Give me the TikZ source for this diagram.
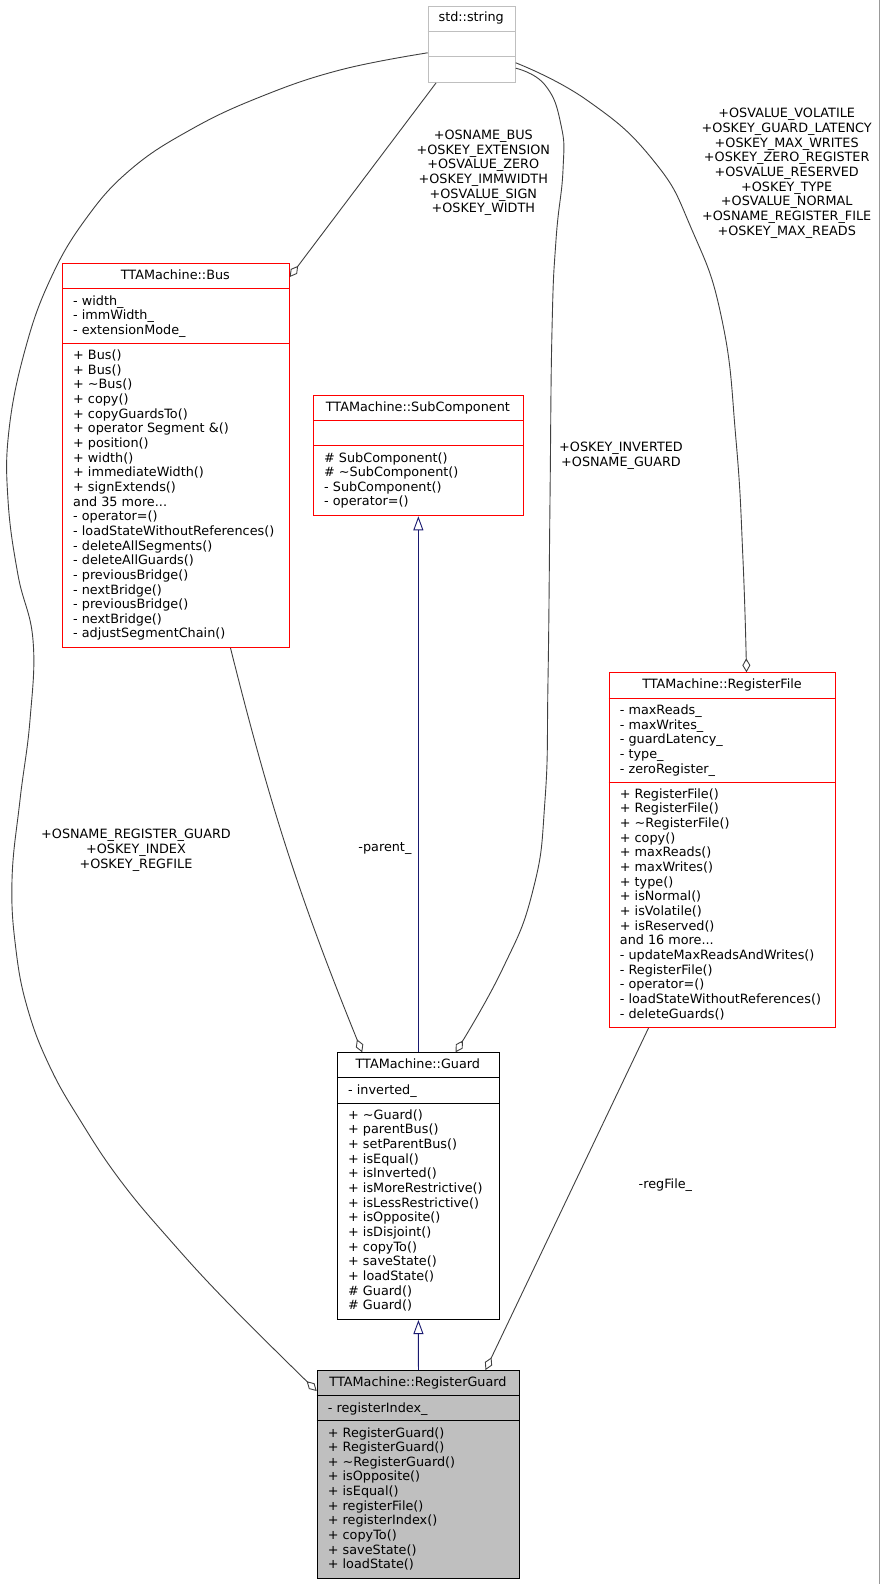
\documentclass[tikz,border=0pt]{standalone}
\usepackage{fontspec}
\setmainfont{DejaVu Sans}
\usetikzlibrary{arrows.meta}

\definecolor{kante}{HTML}{404040}
\definecolor{erbe}{HTML}{191970}
\definecolor{hellgrau}{HTML}{BFBFBF}

\newcommand{\umlfont}{\fontsize{12.8}{14.65}\selectfont}

\begin{document}
\begin{tikzpicture}[x=1pt,y=-1pt,
  every node/.style={font=\umlfont,inner sep=0pt},
  klasse/.style={draw,line width=1pt,anchor=north west},
  titel/.style={anchor=base},
  liste/.style={anchor=base west,align=left},
  rolle/.style={align=center},
  aggr/.style={draw=kante,line width=0.9pt,-{Diamond[open,length=14pt,width=8pt]}},
  erbt/.style={draw=erbe,line width=0.9pt,-{Triangle[open,length=14pt,width=10pt]}}]

\path[use as bounding box,fill=white] (0,0) rectangle (881,1584);

% Rand
\draw[black!40,line width=1pt] (879.5,0)--(879.5,1584);

% std::string
\node[klasse,draw=hellgrau,minimum width=87,minimum height=76.3] (str) at (427.7,5.7) {};
\draw[hellgrau,line width=1pt] (427.7,31.7)--(514.7,31.7);
\draw[hellgrau,line width=1pt] (427.7,56.7)--(514.7,56.7);
\node[titel] (strt) at (471.2,22) {std::string};

% TTAMachine::Bus (Listen an der letzten Grundlinie)
\node[klasse,draw=red,minimum width=226.7,minimum height=383.7] (bus) at (62,263.3) {};
\draw[red,line width=1pt] (62,288.7)--(288.7,288.7);
\draw[red,line width=1pt] (62,343.3)--(288.7,343.3);
\node[titel] (bust) at (175.35,279.6) {TTAMachine::Bus};
\node[liste] (busa) at (73,334.3) {- width\_\\- immWidth\_\\- extensionMode\_};
\node[liste] (busm) at (73,637.95) {+ Bus()\\+ Bus()\\+ \textasciitilde Bus()\\+ copy()\\+ copyGuardsTo()\\+ operator Segment \&()\\+ position()\\+ width()\\+ immediateWidth()\\+ signExtends()\\and 35 more...\\- operator=()\\- loadStateWithoutReferences()\\- deleteAllSegments()\\- deleteAllGuards()\\- previousBridge()\\- nextBridge()\\- previousBridge()\\- nextBridge()\\- adjustSegmentChain()};

% TTAMachine::SubComponent
\node[klasse,draw=red,minimum width=209.7,minimum height=120] (subc) at (313,395.3) {};
\draw[red,line width=1pt] (313,420.7)--(522.7,420.7);
\draw[red,line width=1pt] (313,445.7)--(522.7,445.7);
\node[titel] (subct) at (417.85,411.6) {TTAMachine::SubComponent};
\node[liste] (subcm) at (324,505.95) {\# SubComponent()\\\# \textasciitilde SubComponent()\\- SubComponent()\\- operator=()};

% TTAMachine::RegisterFile
\node[klasse,draw=red,minimum width=226.6,minimum height=354.7] (regfile) at (608.7,672.3) {};
\draw[red,line width=1pt] (608.7,698.3)--(835.3,698.3);
\draw[red,line width=1pt] (608.7,782)--(835.3,782);
\node[titel] (regfilet) at (722,688.6) {TTAMachine::RegisterFile};
\node[liste] (regfilea) at (619.7,773.2) {- maxReads\_\\- maxWrites\_\\- guardLatency\_\\- type\_\\- zeroRegister\_};
\node[liste] (regfilem) at (619.7,1018.05) {+ RegisterFile()\\+ RegisterFile()\\+ \textasciitilde RegisterFile()\\+ copy()\\+ maxReads()\\+ maxWrites()\\+ type()\\+ isNormal()\\+ isVolatile()\\+ isReserved()\\and 16 more...\\- updateMaxReadsAndWrites()\\- RegisterFile()\\- operator=()\\- loadStateWithoutReferences()\\- deleteGuards()};

% TTAMachine::Guard
\node[klasse,minimum width=161.7,minimum height=266.7] (guard) at (337,1052.3) {};
\draw[line width=1pt] (337,1077.7)--(498.7,1077.7);
\draw[line width=1pt] (337,1103)--(498.7,1103);
\node[titel] (guardt) at (417.85,1068.6) {TTAMachine::Guard};
\node[liste] (guarda) at (348,1094) {- inverted\_};
\node[liste] (guardm) at (348,1309.75) {+ \textasciitilde Guard()\\+ parentBus()\\+ setParentBus()\\+ isEqual()\\+ isInverted()\\+ isMoreRestrictive()\\+ isLessRestrictive()\\+ isOpposite()\\+ isDisjoint()\\+ copyTo()\\+ saveState()\\+ loadState()\\\# Guard()\\\# Guard()};

% TTAMachine::RegisterGuard
\node[klasse,fill=hellgrau,minimum width=202.6,minimum height=207.7] (regguard) at (316.7,1370) {};
\draw[line width=1pt] (316.7,1395.7)--(519.3,1395.7);
\draw[line width=1pt] (316.7,1420.7)--(519.3,1420.7);
\node[titel] (regguardt) at (418,1386.3) {TTAMachine::RegisterGuard};
\node[liste] (regguarda) at (327.7,1412) {- registerIndex\_};
\node[liste] (regguardm) at (327.7,1568.85) {+ RegisterGuard()\\+ RegisterGuard()\\+ \textasciitilde RegisterGuard()\\+ isOpposite()\\+ isEqual()\\+ registerFile()\\+ registerIndex()\\+ copyTo()\\+ saveState()\\+ loadState()};

% Vererbung
\draw[erbt] (guard)--(subc);
\draw[erbt] (regguard)--(guard);

% Aggregation Bus
\draw[aggr] ([xshift=8.3pt]str.south west)--([yshift=-13.7pt]bus.north east);
\node[rolle] (lblbus) at (483.3,172.8) {+OSNAME\_BUS\\+OSKEY\_EXTENSION\\+OSVALUE\_ZERO\\+OSKEY\_IMMWIDTH\\+OSVALUE\_SIGN\\+OSKEY\_WIDTH};

% Aggregation RegisterFile
\draw[aggr] plot[smooth,tension=0.8] coordinates {([yshift=-18.45pt]str.east) (586.7,100) (653,160) (692,230) (722,320) (736,440) (743,560) ([xshift=24pt]regfile.north)};
\node[rolle] (lblregfile) at (786.7,173.2) {+OSVALUE\_VOLATILE\\+OSKEY\_GUARD\_LATENCY\\+OSKEY\_MAX\_WRITES\\+OSKEY\_ZERO\_REGISTER\\+OSVALUE\_RESERVED\\+OSKEY\_TYPE\\+OSVALUE\_NORMAL\\+OSNAME\_REGISTER\_FILE\\+OSKEY\_MAX\_READS};

% Aggregation Guard
\draw[aggr] plot[smooth,tension=0.8] coordinates {([yshift=-23.85pt]str.east) (545,85) (561,125) (563,170) (556,240) (552,330) (550,500) (548,680) (545,800) (533,890) (502,970) ([xshift=37.15pt]guard.north)};
\node[rolle] (lblguard) at (621,455.7) {+OSKEY\_INVERTED\\+OSNAME\_GUARD};

% Aggregation RegisterGuard
\draw[aggr] plot[smooth,tension=0.7] coordinates {([yshift=-8.45pt]str.west) (340,70) (260,97) (190,130) (130,170) (85,220) (50,280) (25,350) (9,430) (8,500) (18,575) (33,640) (30,720) (20,800) (12,880) (16,950) (28,1010) (50,1067) (80,1120) (120,1180) (170,1240) (230,1305) ([yshift=-21pt]regguard.north west)};
\node[rolle] (lblregguard) at (136,850.2) {+OSNAME\_REGISTER\_GUARD\\+OSKEY\_INDEX\\+OSKEY\_REGFILE};

% parent_ und regFile_
\draw[aggr] ([xshift=54.65pt]bus.south) to[bend right=4] ([xshift=-56.15pt]guard.north);
\node (lblparent) at (384.9,849) {-parent\_};
\draw[aggr] ([xshift=-74pt]regfile.south)--([xshift=67pt]regguard.north);
\node (lblregfileedge) at (665.4,1185) {-regFile\_};

\end{tikzpicture}
\end{document}
